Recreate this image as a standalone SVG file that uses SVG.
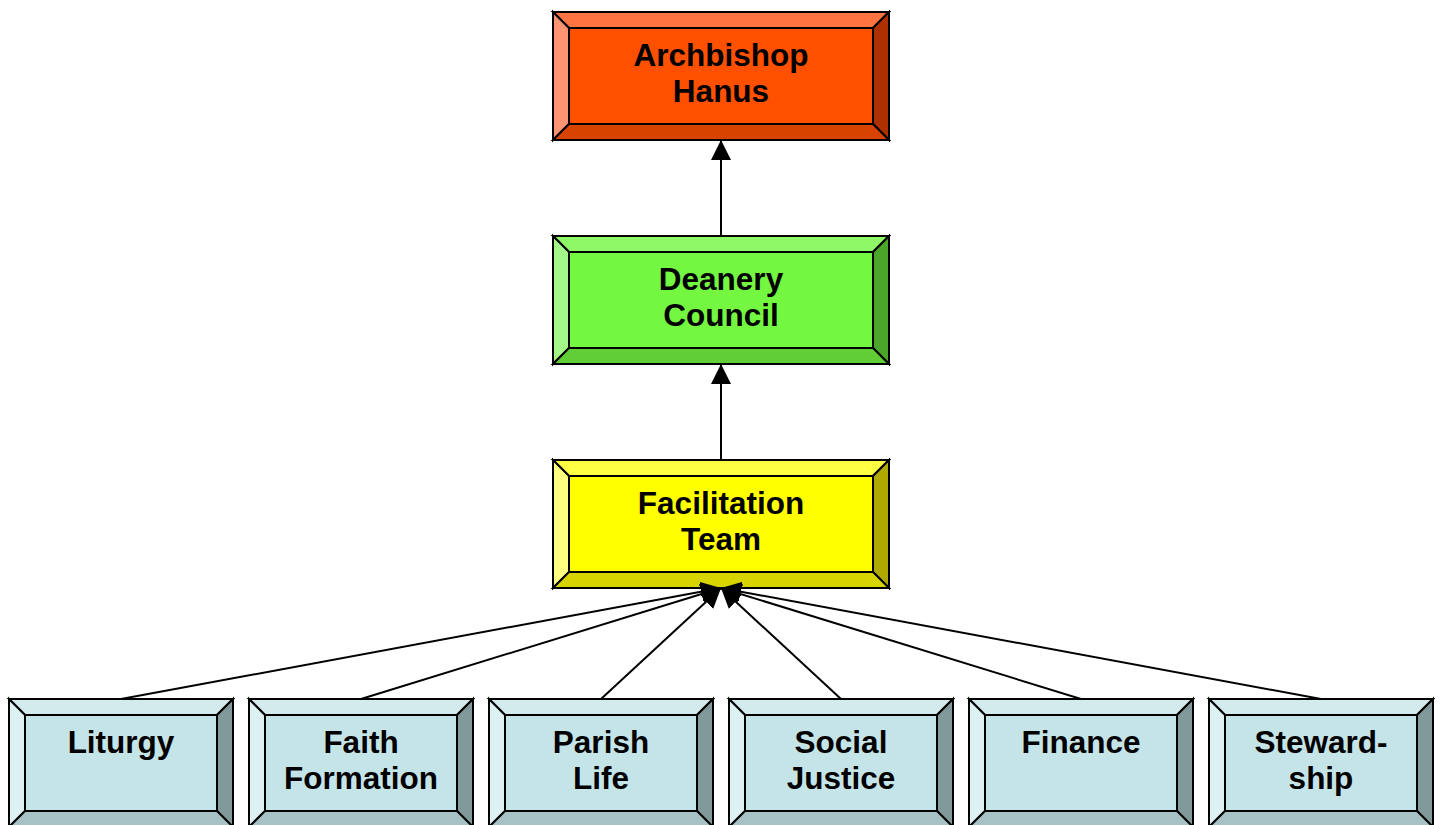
<svg xmlns="http://www.w3.org/2000/svg" width="1441" height="825" viewBox="0 0 1441 825">
<style>
  .b { stroke: #000; stroke-width: 2; }
  .face { fill: var(--face); } .t { fill: var(--top); } .l { fill: var(--left); } .r { fill: var(--right); } .bt { fill: var(--bot); }
  .red { --face: #FF5000; --top: #FF7440; --left: #FF9472; --right: #AC3000; --bot: #D84300; }
  .grn { --face: #73F740; --top: #8EF866; --left: #A2F98A; --right: #4BA528; --bot: #5FCF35; }
  .yel { --face: #FFFF00; --top: #FFFF44; --left: #FFFF80; --right: #B0AA00; --bot: #D8D400; }
  .blu { --face: #C5E4E8; --top: #D4EBEE; --left: #DDF0F2; --right: #809A9C; --bot: #A7C2C5; }
  .lbl { font-family: "Liberation Sans", Arial, sans-serif; font-weight: bold; font-size: 31.5px; text-anchor: middle; fill: #000; stroke: none; }
  .conn line { stroke: #000; stroke-width: 2; fill: none; marker-end: url(#arr); }
</style>
<defs>
  <marker id="arr" markerUnits="userSpaceOnUse" markerWidth="20" markerHeight="20" refX="20" refY="10" orient="auto" viewBox="0 0 20 20">
    <path d="M0,0 L20,10 L0,20 z" fill="#000" stroke="none"/>
  </marker>
  <g id="big">
    <rect class="face" x="0" y="0" width="336" height="128"/>
    <polygon class="t" points="0,0 336,0 320,16 16,16"/>
    <polygon class="l" points="0,0 16,16 16,112 0,128"/>
    <polygon class="r" points="336,0 336,128 320,112 320,16"/>
    <polygon class="bt" points="0,128 16,112 320,112 336,128"/>
    <rect class="face" x="16" y="16" width="304" height="96"/>
  </g>
  <g id="small">
    <rect class="face" x="0" y="0" width="224" height="128"/>
    <polygon class="t" points="0,0 224,0 208,16 16,16"/>
    <polygon class="l" points="0,0 16,16 16,112 0,128"/>
    <polygon class="r" points="224,0 224,128 208,112 208,16"/>
    <polygon class="bt" points="0,128 16,112 208,112 224,128"/>
    <rect class="face" x="16" y="16" width="192" height="96"/>
  </g>
</defs>
<rect width="1441" height="825" fill="#fff"/>

<g id="archbishop" class="b red" transform="translate(553,12)">
  <use href="#big"/>
  <text class="lbl" x="168" y="54">Archbishop</text>
  <text class="lbl" x="168" y="90">Hanus</text>
</g>
<g id="deanery" class="b grn" transform="translate(553,236)">
  <use href="#big"/>
  <text class="lbl" x="168" y="54">Deanery</text>
  <text class="lbl" x="168" y="90">Council</text>
</g>
<g id="facilitation" class="b yel" transform="translate(553,460)">
  <use href="#big"/>
  <text class="lbl" x="168" y="54">Facilitation</text>
  <text class="lbl" x="168" y="90">Team</text>
</g>
<g id="liturgy" class="b blu" transform="translate(9,699)">
  <use href="#small"/>
  <text class="lbl" x="112" y="54">Liturgy</text>
</g>
<g id="faith" class="b blu" transform="translate(249,699)">
  <use href="#small"/>
  <text class="lbl" x="112" y="54">Faith</text>
  <text class="lbl" x="112" y="90">Formation</text>
</g>
<g id="parish" class="b blu" transform="translate(489,699)">
  <use href="#small"/>
  <text class="lbl" x="112" y="54">Parish</text>
  <text class="lbl" x="112" y="90">Life</text>
</g>
<g id="social" class="b blu" transform="translate(729,699)">
  <use href="#small"/>
  <text class="lbl" x="112" y="54">Social</text>
  <text class="lbl" x="112" y="90">Justice</text>
</g>
<g id="finance" class="b blu" transform="translate(969,699)">
  <use href="#small"/>
  <text class="lbl" x="112" y="54">Finance</text>
</g>
<g id="stewardship" class="b blu" transform="translate(1209,699)">
  <use href="#small"/>
  <text class="lbl" x="112" y="54">Steward-</text>
  <text class="lbl" x="112" y="90">ship</text>
</g>

<g id="connectors" class="conn">
  <line x1="721" y1="236" x2="721" y2="140"/>
  <line x1="721" y1="460" x2="721" y2="364"/>
  <line x1="121" y1="699" x2="721" y2="588"/>
  <line x1="361" y1="699" x2="721" y2="588"/>
  <line x1="601" y1="699" x2="721" y2="588"/>
  <line x1="841" y1="699" x2="721" y2="588"/>
  <line x1="1081" y1="699" x2="721" y2="588"/>
  <line x1="1321" y1="699" x2="721" y2="588"/>
</g>
</svg>
